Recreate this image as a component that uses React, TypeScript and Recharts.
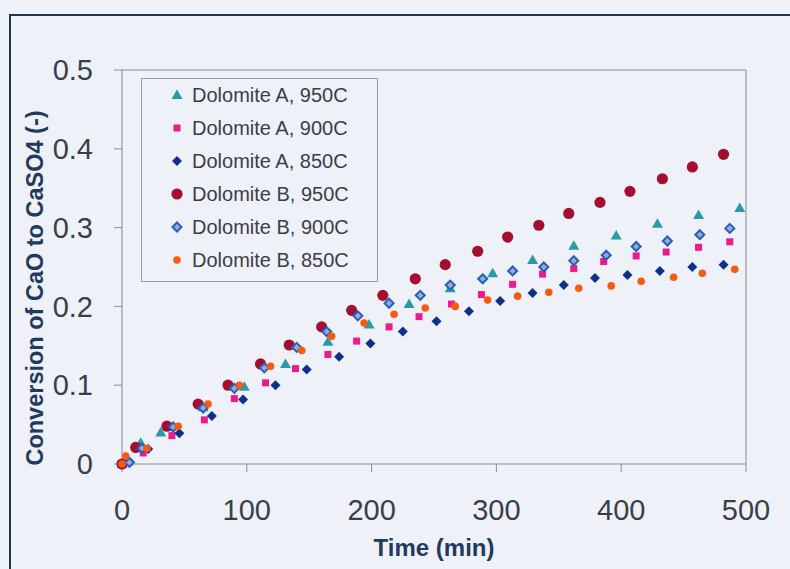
import React from "react";
import {
  ScatterChart,
  Scatter,
  XAxis,
  YAxis,
  ReferenceLine,
} from "recharts";

// time (min) and conversion
const timeA950 = [0, 15, 31, 65, 98, 131, 165, 198, 230, 263, 297, 329, 362, 396, 429, 462, 495];
const convA950 = [0, 0.027, 0.04, 0.072, 0.098, 0.127, 0.155, 0.177, 0.203, 0.223, 0.242, 0.259, 0.277, 0.29, 0.305, 0.316, 0.325];

const timeA900 = [0, 17, 40, 66, 90, 115, 139, 165, 188, 214, 238, 264, 288, 313, 337, 362, 386, 412, 436, 462, 487];
const convA900 = [0, 0.014, 0.036, 0.056, 0.083, 0.103, 0.121, 0.139, 0.156, 0.174, 0.187, 0.203, 0.215, 0.228, 0.241, 0.248, 0.257, 0.264, 0.269, 0.275, 0.282];

const timeA850 = [6, 21, 46, 72, 97, 123, 148, 174, 199, 225, 252, 278, 303, 329, 354, 379, 405, 431, 457, 482];
const convA850 = [0.003, 0.019, 0.039, 0.061, 0.082, 0.1, 0.12, 0.136, 0.153, 0.168, 0.181, 0.194, 0.207, 0.217, 0.227, 0.236, 0.24, 0.245, 0.25, 0.253];

const timeB950 = [0, 11, 36, 61, 85, 111, 134, 160, 184, 209, 235, 259, 285, 309, 334, 358, 383, 407, 433, 457, 482];
const convB950 = [0, 0.021, 0.048, 0.076, 0.1, 0.127, 0.151, 0.174, 0.195, 0.214, 0.235, 0.253, 0.27, 0.288, 0.303, 0.318, 0.332, 0.346, 0.362, 0.377, 0.393];

const timeB900 = [6, 16, 41, 65, 90, 114, 140, 164, 189, 214, 239, 263, 289, 313, 338, 362, 388, 412, 437, 463, 487];
const convB900 = [0.002, 0.02, 0.047, 0.071, 0.096, 0.122, 0.148, 0.168, 0.188, 0.204, 0.214, 0.227, 0.235, 0.245, 0.25, 0.258, 0.265, 0.276, 0.283, 0.291, 0.299];

const timeB850 = [0, 3, 20, 45, 69, 94, 119, 144, 168, 194, 218, 243, 267, 293, 317, 342, 366, 392, 416, 442, 465, 491];
const convB850 = [0, 0.01, 0.02, 0.048, 0.076, 0.1, 0.124, 0.144, 0.162, 0.179, 0.19, 0.198, 0.2, 0.208, 0.213, 0.218, 0.223, 0.226, 0.232, 0.237, 0.242, 0.247];

const xTicks = [0, 100, 200, 300, 400, 500];
const yTicks = [0, 0.1, 0.2, 0.3, 0.4, 0.5];

const zip = (t: number[], v: number[]) => t.map((x, i) => ({ t: x, v: v[i] }));

type Mark = (cx: number, cy: number) => React.ReactElement;

const triangle: Mark = (cx, cy) => (
  <path d={`M${cx},${cy - 5.5}L${cx + 5.5},${cy + 4}L${cx - 5.5},${cy + 4}Z`} fill="#2a9aa7" />
);
const square: Mark = (cx, cy) => (
  <rect x={cx - 3.5} y={cy - 3.5} width={7} height={7} fill="#ec1b8c" />
);
const diamond: Mark = (cx, cy) => (
  <path d={`M${cx},${cy - 5}L${cx + 5},${cy}L${cx},${cy + 5}L${cx - 5},${cy}Z`} fill="#0f2f8c" />
);
const bigCircle: Mark = (cx, cy) => <circle cx={cx} cy={cy} r={5.6} fill="#a50f2f" />;
const openDiamond: Mark = (cx, cy) => (
  <path
    d={`M${cx},${cy - 4.5}L${cx + 4.5},${cy}L${cx},${cy + 4.5}L${cx - 4.5},${cy}Z`}
    fill="#a3aab8"
    stroke="#1f5fc9"
    strokeWidth={2}
  />
);
const smallCircle: Mark = (cx, cy) => <circle cx={cx} cy={cy} r={3.8} fill="#f75b12" />;

const series = [
  { name: "Dolomite A, 950C", data: zip(timeA950, convA950), mark: triangle },
  { name: "Dolomite A, 900C", data: zip(timeA900, convA900), mark: square },
  { name: "Dolomite A, 850C", data: zip(timeA850, convA850), mark: diamond },
  { name: "Dolomite B, 950C", data: zip(timeB950, convB950), mark: bigCircle },
  { name: "Dolomite B, 900C", data: zip(timeB900, convB900), mark: openDiamond },
  { name: "Dolomite B, 850C", data: zip(timeB850, convB850), mark: smallCircle },
];

const bg = "#eff1f9";
const textCol = "#3a3e49";
const titleCol = "#223a5e";
const axisCol = "#8b8d93";

const LegendBox = () => (
  <svg width={237} height={204} style={{ display: "block" }}>
    <rect x={0.5} y={0.5} width={236} height={203} fill={bg} stroke="#9a9ca3" />
    {series.map((s, i) => (
      <g key={s.name}>
        {s.mark(36, 17 + i * 33)}
        <text
          x={51}
          y={24 + i * 33}
          fontSize={20}
          fill={textCol}
          fontFamily="Liberation Sans, Arial, sans-serif"
        >
          {s.name}
        </text>
      </g>
    ))}
  </svg>
);

export default function App() {
  return (
    <div
      style={{
        position: "absolute",
        left: 0,
        top: 0,
        width: 790,
        height: 569,
        background: bg,
        overflow: "hidden",
        fontFamily: "Liberation Sans, Arial, sans-serif",
      }}
    >
      <div
        style={{
          position: "absolute",
          left: 9,
          top: 14,
          width: 790,
          height: 560,
          borderLeft: "2px solid #1e3556",
          borderTop: "2px solid #1e3556",
        }}
      />
      <div style={{ position: "absolute", left: 0, top: 0 }}>
        <ScatterChart width={790} height={569} margin={{ top: 70, right: 44, bottom: 45, left: 62 }}>
          <XAxis
            type="number"
            dataKey="t"
            domain={[0, 500]}
            ticks={xTicks}
            height={60}
            stroke={axisCol}
            tickSize={8}
            tickMargin={27}
            tick={{ fontSize: 29, fill: textCol }}
            label={{
              content: () => (
                <text x={434} y={556} textAnchor="middle" fontSize={24} fontWeight="bold" fill={titleCol}>
                  Time (min)
                </text>
              ),
            }}
          />
          <YAxis
            type="number"
            dataKey="v"
            domain={[0, 0.5]}
            ticks={yTicks}
            width={60}
            stroke={axisCol}
            tickSize={8}
            tickMargin={21}
            tick={{ fontSize: 29, fill: textCol }}
            label={{
              content: () => (
                <text
                  x={35}
                  y={288}
                  transform="rotate(-90 35 288)"
                  textAnchor="middle"
                  dominantBaseline="central"
                  fontSize={23.5}
                  fontWeight="bold"
                  fill={titleCol}
                >
                  Conversion of CaO to CaSO4 (-)
                </text>
              ),
            }}
          />
          <ReferenceLine y={0.5} stroke={axisCol} />
          <ReferenceLine x={500} stroke={axisCol} />
          {series.map((s) => (
            <Scatter
              key={s.name}
              name={s.name}
              data={s.data}
              isAnimationActive={false}
              shape={(p: any) => s.mark(p.cx, p.cy)}
            />
          ))}
        </ScatterChart>
      </div>
      <div style={{ position: "absolute", left: 141, top: 78 }}>
        <LegendBox />
      </div>
    </div>
  );
}
